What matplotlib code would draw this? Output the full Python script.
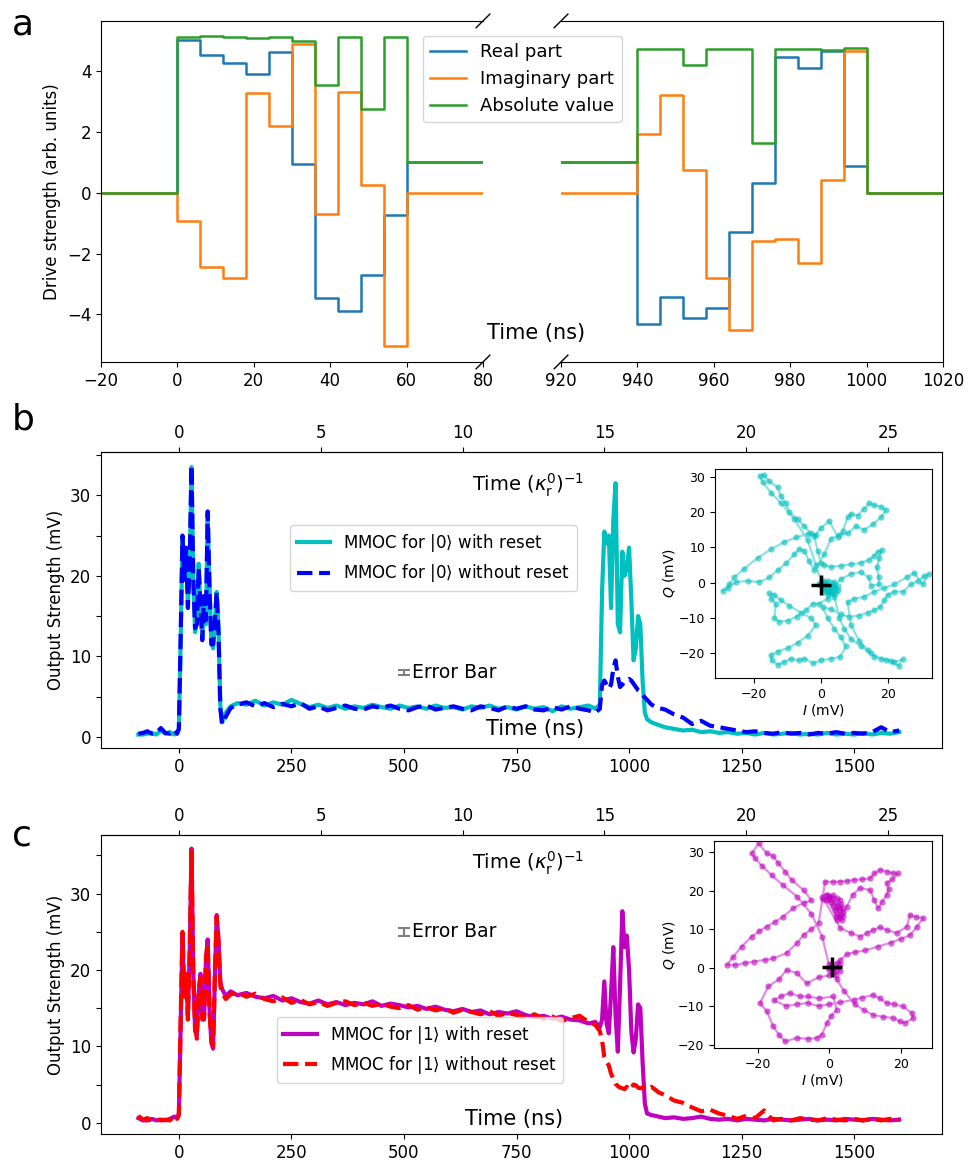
import numpy as np
import matplotlib.pyplot as plt
from matplotlib.ticker import MultipleLocator, FuncFormatter

KAPPA_INV = 63.0  # ns per (kappa_r^0)^-1

# ---------------- panel a: drive pulses (6 ns segments) ----------------
t_a_left = [-20, 0, 6, 12, 18, 24, 30, 36, 42, 48, 54, 60, 80]
real_a_left = [0, 5.01, 4.51, 4.26, 3.89, 4.62, 0.94, -3.45, -3.90, -2.72, -0.73, 1.0, 1.0]
imag_a_left = [0, -0.92, -2.43, -2.81, 3.27, 2.17, 4.87, -0.72, 3.31, 0.25, -5.05, 0, 0]

t_a_right = [920, 940, 946, 952, 958, 964, 970, 976, 982, 988, 994, 1000, 1020]
real_a_right = [1.0, -4.31, -3.43, -4.12, -3.78, -1.28, 0.31, 4.46, 4.09, 4.66, 0.87, 0, 0]
imag_a_right = [0, 1.92, 3.21, 0.74, -2.80, -4.52, -1.60, -1.52, -2.32, 0.42, 4.66, 0, 0]

# ---------------- panels b, c: output traces ----------------
t_pre = [-90, -80, -70, -60, -50, -40, -30, -20, -10, -4]
t_p1 = list(range(0, 100, 4))
t_flat = [104, 115] + list(range(130, 911, 20)) + [925]
t_p2 = list(range(935, 1041, 5))
t_tail = [1050, 1065, 1080] + list(range(1100, 1601, 20))
t_out = t_pre + t_p1 + t_flat + t_p2 + t_tail

out0_reset = ([0.3, 0.3, 0.4, 0.5, 0.3, 0.8, 0.4, 0.6, 0.3, 0.5]
              + [1.0, 12, 24.5, 20, 23, 16.5, 21, 33.5, 20, 13, 14.5, 21.5, 16, 12.5, 17,
                 14, 27.5, 19, 12, 11, 14, 18, 13.5, 4, 1.8]
              + [3.0, 3.8, 4.2, 4.0, 4.5, 3.9, 4.3, 4.0, 4.6, 4.1, 3.7, 4.0, 3.6, 3.9, 3.5,
                 3.8, 3.6, 4.0, 3.7, 3.5, 3.9, 3.6, 3.8, 3.5, 3.9, 3.6, 3.7, 3.4, 3.8, 3.6,
                 3.9, 3.5, 3.7, 3.4, 3.8, 3.5, 3.7, 3.2, 3.8, 3.5, 3.7, 3.9, 3.5]
              + [4, 18, 25.5, 24, 25, 16, 27, 31.5, 14, 13, 23, 20, 21, 23.5, 17, 9.5, 11,
                 15, 14, 7, 3, 2.2]
              + [1.8, 1.5, 1.2, 1.0, 0.8, 0.9, 0.6, 0.7, 0.5, 0.6, 0.4, 0.5, 0.3, 0.5, 0.3,
                 0.4, 0.5, 0.3, 0.4, 0.3, 0.5, 0.3, 0.4, 0.3, 0.5, 0.3, 0.5, 0.4, 0.6])
out0_noreset = ([0.4, 0.5, 0.7, 0.4, 0.5, 1.1, 0.5, 0.4, 0.9, 0.4]
                + [1.0, 12.5, 25, 19.5, 23.5, 16, 21.5, 33.7, 19.5, 13.5, 14, 21, 16.5, 12,
                   17.5, 14.5, 28, 18.5, 11.5, 11.5, 14.5, 18, 13, 3.5, 1.6]
                + [2.5, 3.6, 4.0, 4.3, 3.8, 4.2, 3.7, 4.1, 3.8, 4.2, 3.5, 3.8, 3.3, 3.6, 3.9,
                   3.5, 3.4, 3.8, 3.6, 3.9, 3.5, 3.3, 3.7, 3.9, 3.4, 3.6, 3.8, 3.5, 3.3, 3.8,
                   3.6, 3.3, 3.8, 3.5, 3.8, 3.4, 3.3, 3.7, 3.4, 3.8, 3.5, 3.3, 3.0]
                + [3.5, 6.5, 7, 6.5, 6, 6.5, 8.5, 9.5, 7.5, 6.2, 6.5, 6.9, 7, 7.2, 7, 6.6,
                   6.2, 5.8, 5.6, 5.2, 4.9, 4.6]
                + [4.0, 3.6, 3.4, 2.8, 2.4, 1.6, 2.0, 1.4, 1.2, 1.0, 0.8, 0.6, 0.7, 0.5, 0.4,
                   0.6, 0.4, 0.5, 0.3, 0.5, 0.4, 0.6, 0.4, 0.5, 0.4, 0.6, 1.2, 0.6, 0.8])

out1_reset = ([0.6, 0.3, 0.3, 0.5, 0.3, 0.4, 0.3, 0.5, 0.8, 0.6]
              + [1.2, 13, 24.5, 17, 19, 14, 22, 35.9, 20, 12, 11.5, 17, 19.5, 14, 13.5, 21,
                 24, 15, 10.5, 9.7, 19, 27.2, 24, 18.5, 17.5]
              + [16.6, 17.2, 16.7, 17.0, 16.5, 16.3, 16.6, 16.0, 16.3, 15.8, 15.6, 16.0,
                 15.5, 15.8, 15.4, 15.7, 15.5, 15.9, 15.3, 15.6, 15.4, 15.1, 15.3, 14.9,
                 15.2, 14.8, 14.6, 14.9, 14.5, 14.7, 14.2, 14.5, 14.3, 14.6, 14.1, 13.8,
                 14.0, 13.6, 13.9, 13.5, 13.4, 13.0, 13.2]
              + [12.5, 13.5, 18.5, 13, 11.7, 17, 23, 14, 9.3, 18, 27.7, 23, 24.5, 20, 12,
                 9.2, 11, 15.5, 15, 8, 2.5, 1.2]
              + [1.0, 0.8, 0.6, 0.7, 0.5, 0.6, 0.8, 0.5, 0.4, 0.5, 0.3, 0.5, 0.4, 0.3, 0.5,
                 0.4, 0.3, 0.4, 0.5, 0.3, 0.4, 0.3, 0.5, 0.4, 0.3, 0.5, 0.4, 0.3, 0.4])
out1_noreset = ([0.9, 0.4, 0.6, 0.3, 0.5, 0.3, 0.4, 0.3, 0.9, 0.5]
                + [1.0, 13.5, 25, 16.5, 19.5, 13.5, 22.5, 35.5, 19, 12.5, 11, 17.5, 19, 13.5,
                   14, 21.5, 23.5, 14.5, 11, 10, 19.5, 27, 23.5, 18, 17]
                + [16.2, 16.8, 17.1, 16.5, 16.9, 16.2, 15.9, 16.4, 15.7, 16.1, 15.5, 15.8,
                   15.3, 15.7, 15.9, 15.4, 15.7, 15.3, 15.6, 15.2, 15.0, 15.4, 14.8, 15.1,
                   14.7, 15.0, 14.4, 14.8, 14.5, 14.2, 14.6, 14.0, 14.4, 14.1, 13.8, 14.2,
                   13.6, 13.9, 13.3, 13.7, 14.0, 13.2, 12.8]
                + [12, 10.8, 8.6, 8, 7.5, 6.4, 5.8, 5.1, 4.8, 4.6, 4.5, 4.4, 4.7, 4.3, 4.6,
                   5.0, 4.9, 4.6, 4.5, 4.6, 4.5, 4.4]
                + [4.7, 4.0, 3.6, 2.9, 2.6, 2.0, 1.5, 1.7, 1.2, 0.9, 0.5, 0.9, 0.6, 1.6, 0.3,
                   0.5, 0.3, 0.6, 0.4, 0.3, 0.6, 0.4, 0.3, 0.5, 0.3, 0.5, 0.3, 0.5, 0.4])

# ---------------- IQ trajectories for the insets ----------------
iq_0 = [
    (0.3, 0.2), (-0.2, -0.3), (0.5, -0.5), (0.1, 0.4),
    (-1.5, 5), (-4, 12), (-8, 18), (-12, 22.5), (-15, 25.5), (-17.5, 28.5), (-18.3, 30.3),
    (-17.2, 30.5), (-15.5, 28.7), (-13, 27), (-12, 24.5), (-10.5, 22.5), (-9.5, 20), (-7, 18),
    (-5, 16), (-3, 14), (-1.5, 13.5),
    (-4, 13.8), (-7.5, 12.8), (-11, 11.5), (-15, 9.5), (-19, 7), (-23, 4), (-26, 1.5),
    (-27.5, -0.5), (-29.5, -2.3), (-28, -1.5), (-25.5, 0.2), (-22, 0.5), (-18.5, 0.2),
    (-15.5, 1.5), (-13, 3.5), (-10.5, 5.5), (-8, 8), (-6.5, 9.5), (-5, 9), (-3.5, 6), (-2, 3.5),
    (1, 8), (3, 12.5), (5.5, 13.5), (8, 14), (10.5, 16), (13, 15), (15.5, 16.5), (18, 18.5),
    (19.5, 20.5), (18, 21.5), (16, 22), (14.5, 22.5), (13, 21), (11, 19), (9, 19.5), (8, 18.5),
    (6.5, 14.5), (5, 13), (2.5, 17.5), (0, 15.5), (-2, 13.2),
    (-1, 9), (0, 5.5), (1, 5), (3, 4.5),
    (6, 4.8), (9, 5.2), (12, 5.6), (14.5, 6.5), (15.8, 7.5), (17, 8.8), (18.3, 9.3), (17.5, 7),
    (16.8, 4.5), (17.3, 1.5), (17.5, -0.5), (15, -0.8), (14.3, 1.5), (12, 3), (9, 2.5), (6, 1),
    (4, -1), (2.5, -2), (1, -1), (2, -1.5), (3, -2), (4, -1.5), (3.5, -0.5), (2.5, -2.5),
    (1.5, -0.5), (0.5, -1.5), (4.5, -2.5), (5, -1), (3, -3), (2, -3.5), (1, -2.5), (-0.5, -0.5),
    (4, -3.2), (5.2, -2), (3.8, 0.3), (2.2, 0.5), (1.2, -2), (3.2, -1.2),
    (2, -4.5), (-0.5, -6), (-2.5, -6), (-4.5, -7.8), (-7.3, -9.6), (-10, -10.8), (-12.5, -11),
    (-14, -10), (-13.5, -6), (-15, -4.5), (-15.5, -3), (-14, -3.5), (-12, -5), (-9.5, -6.5),
    (-6, -8.5), (-3, -10), (-1.5, -12),
    (-4, -15), (-7, -17), (-10, -18.5), (-13, -19.5), (-15, -20.5), (-14.8, -22), (-13, -23.2),
    (-11, -22.5), (-9, -21.5), (-6.5, -22), (-5, -21.5), (-2.3, -22.8), (0, -22), (3, -21.5),
    (5.7, -21), (7.5, -18), (6, -15.5), (4, -13), (2, -10), (0.5, -7),
    (3, -7.5), (6, -9), (8.5, -9.7), (11.5, -9.3), (14, -8.5), (16, -7.8), (17.8, -6.8),
    (19, -5), (20, -3.5), (22, -2.5), (24.7, -2.5), (27, -0.5), (29, 0.5), (31, 1.8),
    (32.3, 2.4), (30.5, -0.5), (28, 2.8), (25.7, 1.5), (22, -0.5), (19, -1.5), (16, -2.5),
    (13, -4), (10, -4.5), (8, -5.5),
    (9, -12), (11.5, -16.5), (14, -19), (16, -21), (19.5, -21.8), (22, -22.5), (24.5, -21.7),
    (23.3, -23.5), (21, -22.2), (18, -21.5), (15, -20), (12, -18), (9, -16), (7, -13),
    (5.5, -10), (4, -4), (2.5, -2), (1, 0.5), (0.2, -0.3), (0.5, -0.8),
]
iq_1 = [
    (0.5, 0.3), (1, -0.3), (0.2, -0.5),
    (-2, 8), (-5, 14), (-9, 18.5), (-13, 21.5), (-16, 24), (-18.8, 26.5), (-20.7, 28.5),
    (-21.6, 29.7), (-19.7, 32.3), (-17.4, 29.7), (-15.6, 29), (-14.2, 27.1), (-12.3, 25),
    (-10.5, 22.8), (-7.2, 20.2), (-5, 17.5), (-7.2, 16.8), (-10, 15.5), (-12.8, 13.3),
    (-15, 12), (-17.4, 10.7), (-19.5, 9.5), (-21.6, 8.1), (-24.4, 5.5), (-26.7, 2.9),
    (-28.5, 0.7), (-26.2, 0.7), (-23.5, 1.2), (-21.1, 1.6), (-18, 2), (-15.6, 2.4),
    (-11.9, 3.8), (-9.1, 6.3), (-7.2, 8.5), (-5, 10), (-3, 11.5),
    (-1.2, 22.4), (1, 22.3), (3, 22.4), (5, 22.5), (6.7, 22.8), (9, 23), (11.3, 23.2),
    (12.5, 24.5), (14.1, 25.4), (16, 25), (17.8, 24.5), (19.2, 24.5), (17.5, 23), (15.9, 22),
    (16.5, 20.5), (15.9, 18.9), (14.5, 17), (13.6, 15.4), (12.5, 17.5), (11.3, 20.2),
    (8.5, 20.7), (6.5, 19), (4.8, 15.9),
    (3.9, 13.5), (1.8, 13.2), (-0.5, 18.8), (0.8, 18), (2, 15.5), (3, 13.8), (2.8, 15),
    (1.5, 17.2), (0, 17.8), (-1.8, 17.8), (3.5, 15.5), (2.2, 12.3), (1, 16), (-1, 17.5),
    (0.5, 17), (3.2, 16.5), (3.8, 14.5), (3.5, 12.5), (2.8, 13), (2, 14), (1.5, 15), (2.5, 16),
    (3, 17.5), (2, 18), (1, 18.8), (0, 18.5), (-1, 19), (-2, 18.5),
    (3, 10.3), (6, 9), (8.5, 8.1), (10.5, 9), (12.2, 9.8), (14, 10.5), (15.9, 9.8), (18.7, 9),
    (21.5, 10.7), (22.4, 13.7), (24, 13.2), (26.1, 12.9), (24.3, 10.7), (22.5, 8.5), (20, 7.5),
    (17, 6.5), (13.5, 5.5), (10, 4.5), (7, 4), (4.8, 3.5), (3, 2),
    (0, -2), (-3, -2.5), (-6.3, -4.1), (-9.1, -1.4), (-11.9, -0.6), (-14, -3), (-17, -4.9),
    (-19.3, -9.2), (-17.4, -11.4), (-15.6, -15.3), (-14, -17.5), (-12.3, -19.2), (-9.1, -18.3),
    (-6, -18.5), (-3.5, -18.3), (-2.1, -17.4), (-0.7, -14.4), (0.5, -12.5), (2, -11),
    (1.1, -7.5),
    (-3, -8), (-6, -7.5), (-8.2, -7.5), (-11, -6.6), (-13.5, -7.5), (-15.5, -8.5), (-12, -10),
    (-9, -9.5), (-6, -9.2), (-3, -10), (0, -9.5), (3, -9), (6.7, -8.4),
    (9, -7.8), (12.2, -7.1), (14, -8), (15.9, -9.2), (18, -9.5), (20.5, -10.1), (22.9, -11.8),
    (23.3, -13.1), (21, -14.4), (19.5, -14), (17.8, -13.1), (15, -12.8), (12.2, -12.3),
    (9.5, -11), (7, -9.5), (4, -6), (2, -3),
    (0.5, 0.5), (1.5, -0.5), (2.5, 0.3), (1, -1.2), (0, 1), (2, 1.2), (3, -0.8), (1.8, -1.8),
    (-0.5, 0), (2.8, 1),
]
center_0 = (0.0, -0.7)
center_1 = (0.7, 0.2)

plt.rcParams['font.size'] = 12

fig = plt.figure(figsize=(9.73, 11.62), dpi=100)

# ================= panel a (broken x axis) =================
axL = fig.add_axes([0.1038, 0.6885, 0.3926, 0.2935])
axR = fig.add_axes([0.5766, 0.6885, 0.3926, 0.2935], sharey=axL)

abs_left = np.abs(np.array(real_a_left) + 1j * np.array(imag_a_left))
abs_right = np.abs(np.array(real_a_right) + 1j * np.array(imag_a_right))

lines = []
for ax, t, re, im, ab in [(axL, t_a_left, real_a_left, imag_a_left, abs_left),
                          (axR, t_a_right, real_a_right, imag_a_right, abs_right)]:
    l1, = ax.plot(t, re, drawstyle='steps-post', lw=1.8, color='tab:blue', label='Real part')
    l2, = ax.plot(t, im, drawstyle='steps-post', lw=1.8, color='tab:orange', label='Imaginary part')
    l3, = ax.plot(t, ab, drawstyle='steps-post', lw=1.8, color='tab:green', label='Absolute value')
    lines = [l1, l2, l3]

axL.set_xlim(-20, 80)
axR.set_xlim(920, 1020)
axL.set_xticks([-20, 0, 20, 40, 60, 80])
axR.set_xticks([920, 940, 960, 980, 1000, 1020])
axL.set_yticks([-4, -2, 0, 2, 4])
axL.spines['right'].set_visible(False)
axR.spines['left'].set_visible(False)
axR.tick_params(left=False, labelleft=False)
axL.set_ylabel('Drive strength (arb. units)')

dx, dy = 0.018, 0.02
kw = dict(color='k', clip_on=False, lw=1)
axL.plot((1 - dx, 1 + dx), (-dy, dy), transform=axL.transAxes, **kw)
axL.plot((1 - dx, 1 + dx), (1 - dy, 1 + dy), transform=axL.transAxes, **kw)
axR.plot((-dx, dx), (-dy, dy), transform=axR.transAxes, **kw)
axR.plot((-dx, dx), (1 - dy, 1 + dy), transform=axR.transAxes, **kw)

fig.legend(lines, [l.get_label() for l in lines], loc='upper left',
           bbox_to_anchor=(0.425, 0.977), fontsize=13)
fig.text(0.5005, 0.7134, 'Time (ns)', fontsize=15, va='center')


# ================= panels b, c =================
def out_panel(rect, y_solid, y_dash, c_solid, c_dash, lab_solid, lab_dash,
              leg_loc, leg_anchor, err_y, err_h, ktext_y, ttext_x, ttext_y):
    ax = fig.add_axes(rect)
    ax.plot(t_out, y_solid, color=c_solid, lw=3, label=lab_solid)
    ax.plot(t_out, y_dash, color=c_dash, lw=3, ls='--', label=lab_dash)
    ax.set_xlim(-173, 1695)
    ax.set_xticks([0, 250, 500, 750, 1000, 1250, 1500])
    ax.yaxis.set_major_locator(MultipleLocator(5))
    ax.yaxis.set_major_formatter(FuncFormatter(lambda v, p: f'{v:.0f}' if v % 10 == 0 else ''))
    ax.set_ylabel('Output Strength (mV)')
    sec = ax.secondary_xaxis('top', functions=(lambda t: t / KAPPA_INV, lambda k: k * KAPPA_INV))
    sec.set_xticks([0, 5, 10, 15, 20, 25])
    ax.legend(loc=leg_loc, bbox_to_anchor=leg_anchor, fontsize=12)
    ax.errorbar([500], [err_y], yerr=[err_h], fmt='none', ecolor='gray', capsize=4.5,
                elinewidth=1.5, capthick=1.5)
    ax.text(518, err_y, 'Error Bar', va='center', fontsize=13.5)
    ax.text(650, ktext_y, r'Time $(\kappa_{\rm r}^0)^{-1}$', va='center', fontsize=14)
    ax.text(ttext_x, ttext_y, 'Time (ns)', va='center', fontsize=15)
    return ax


ax_b = out_panel([0.1038, 0.3563, 0.8643, 0.2547], out0_reset, out0_noreset, 'c', 'b',
                 r'MMOC for $|0\rangle$ with reset', r'MMOC for $|0\rangle$ without reset',
                 'upper left', (0.215, 0.78), 8.0, 0.35, 31.3, 683, 0.95)
ax_c = out_panel([0.1038, 0.0241, 0.8643, 0.2573], out1_reset, out1_noreset, 'm', 'r',
                 r'MMOC for $|1\rangle$ with reset', r'MMOC for $|1\rangle$ without reset',
                 'lower left', (0.199, 0.144), 25.0, 0.55, 34.0, 635, 0.5)


def iq_inset(rect, iq, center, color, xlim, ylim):
    ax = fig.add_axes(rect)
    i_vals = [p[0] for p in iq]
    q_vals = [p[1] for p in iq]
    ax.plot(i_vals, q_vals, color=color, lw=1.6, alpha=0.45)
    ax.plot(i_vals, q_vals, 'o', color=color, ms=4.5, alpha=0.6, mec='none')
    ax.plot([center[0]], [center[1]], '+', color='k', ms=14, mew=2.5)
    ax.set_xlim(*xlim)
    ax.set_ylim(*ylim)
    ax.set_xticks([-20, 0, 20])
    ax.set_yticks([-20, -10, 0, 10, 20, 30])
    ax.tick_params(labelsize=9)
    ax.set_xlabel('$I$ (mV)', fontsize=10, labelpad=1)
    ax.set_ylabel('$Q$ (mV)', fontsize=10, labelpad=1)
    return ax


iq_inset([0.7348, 0.4165, 0.223, 0.1799], iq_0, center_0, 'c', (-31.8, 33.3), (-27.0, 32.2))
iq_inset([0.7338, 0.0981, 0.224, 0.178], iq_1, center_1, 'm', (-32.1, 28.5), (-20.9, 32.9))

fig.text(0.012, 0.979, 'a', fontsize=26, va='center')
fig.text(0.012, 0.639, 'b', fontsize=26, va='center')
fig.text(0.012, 0.281, 'c', fontsize=26, va='center')

fig.savefig('out.png', dpi=100)
